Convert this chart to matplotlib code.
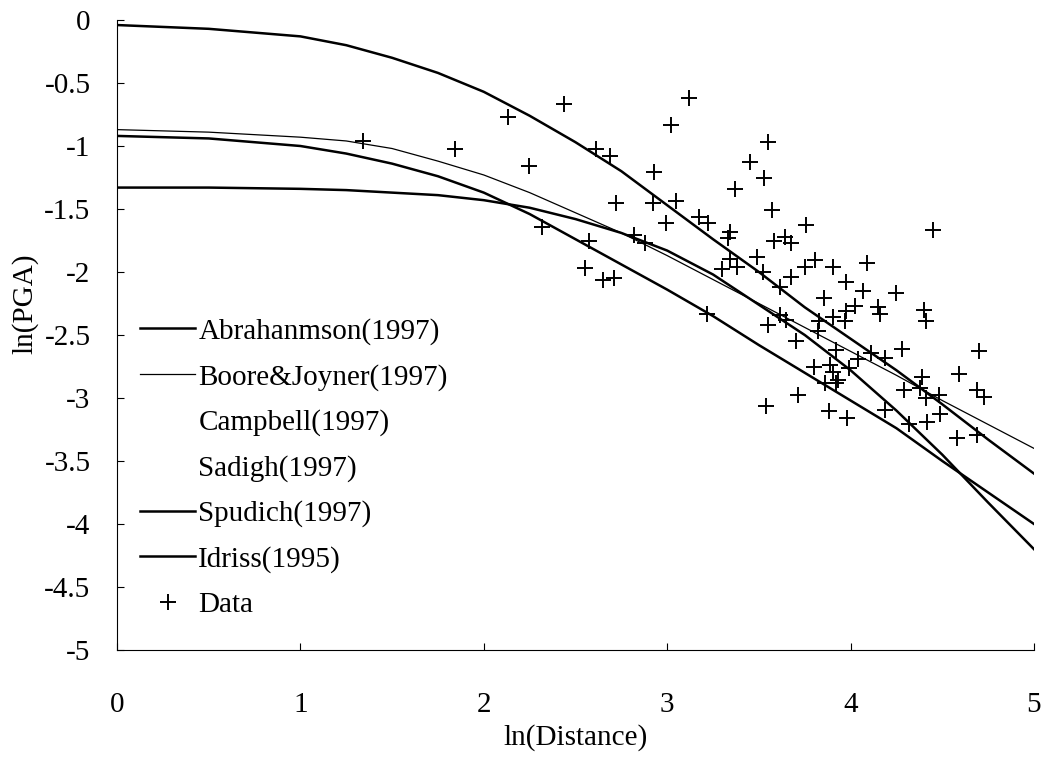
import matplotlib
matplotlib.use('Agg')
from matplotlib import pyplot as plt
from matplotlib.ticker import FuncFormatter


# model curves
dist = [0, 0.5, 1, 1.25, 1.5, 1.75, 2, 2.25, 2.5, 2.75, 3, 3.25, 3.5, 3.75, 4, 4.25, 4.5, 4.75, 5]
abrahamson = [-0.04, -0.07, -0.13, -0.2, -0.3, -0.42, -0.57, -0.76, -0.97, -1.2, -1.47, -1.74, -2.0, -2.28, -2.53, -2.78, -3.05, -3.33, -3.6]
boore = [-0.87, -0.89, -0.93, -0.96, -1.02, -1.12, -1.23, -1.37, -1.53, -1.69, -1.87, -2.06, -2.25, -2.44, -2.63, -2.82, -3.02, -3.21, -3.4]
spudich = [-0.92, -0.94, -1.0, -1.06, -1.14, -1.24, -1.37, -1.54, -1.74, -1.94, -2.14, -2.35, -2.58, -2.8, -3.02, -3.24, -3.5, -3.75, -4.0]
idriss = [-1.33, -1.33, -1.34, -1.35, -1.37, -1.39, -1.43, -1.49, -1.58, -1.69, -1.83, -2.02, -2.26, -2.5, -2.78, -3.1, -3.45, -3.83, -4.2]

# recorded data
data_x = [1.34, 1.845, 2.13, 2.44, 2.245, 2.61, 2.69, 2.72, 2.32, 2.575, 2.55, 2.65, 2.71, 2.82, 2.88,
          3.12, 3.02, 2.93, 2.92, 3.05, 2.995, 3.175, 3.22, 3.34, 3.33, 3.55, 3.45, 3.53, 3.37, 3.57,
          3.58, 3.30, 3.34, 3.38, 3.49, 3.52, 3.215, 3.55, 3.755, 3.64, 3.675, 3.675, 3.615, 3.75, 3.805,
          3.905, 3.975, 3.855, 3.615, 3.65, 3.70, 3.83, 3.905, 3.975, 3.80, 3.89, 3.905, 3.93, 3.99, 3.715,
          3.54, 3.88, 3.98, 4.45, 4.09, 4.07, 4.245, 4.025, 4.15, 4.16, 4.40, 4.41, 3.82, 4.28, 3.92,
          4.04, 4.11, 4.19, 4.70, 3.92, 3.86, 4.39, 4.59, 4.29, 4.38, 4.48, 4.69, 4.73, 4.41, 4.19,
          4.32, 4.415, 4.49, 4.58, 4.69, 3.97]
data_y = [-0.96, -1.02, -0.77, -0.67, -1.16, -1.02, -1.08, -1.45, -1.64, -1.75, -1.97, -2.06, -2.05, -1.71, -1.77,
          -0.62, -0.83, -1.21, -1.45, -1.44, -1.61, -1.56, -1.61, -1.68, -1.73, -0.97, -1.13, -1.25, -1.34, -1.51,
          -1.75, -1.98, -1.90, -1.96, -1.88, -2.0, -2.33, -2.42, -1.63, -1.72, -1.77, -2.04, -2.12, -1.96, -1.905,
          -1.96, -2.08, -2.21, -2.34, -2.38, -2.55, -2.39, -2.355, -2.31, -2.75, -2.74, -2.79, -2.86, -2.76, -2.98,
          -3.06, -3.10, -3.16, -1.67, -1.93, -2.15, -2.17, -2.27, -2.275, -2.33, -2.30, -2.39, -2.47, -2.61, -2.62,
          -2.69, -2.645, -2.685, -2.63, -2.88, -2.88, -2.83, -2.81, -2.94, -2.92, -2.98, -2.94, -2.99, -3.0, -3.095,
          -3.21, -3.19, -3.13, -3.32, -3.29, -2.39]

plt.rcParams['font.family'] = 'Liberation Serif'
plt.rcParams['axes.unicode_minus'] = False

fig = plt.figure(figsize=(10.45, 7.57), dpi=100)
ax = fig.add_axes([117/1045, 1 - 650/757, 917/1045, 630/757])

ax.plot(dist, abrahamson, color='black', lw=1.8, label='Abrahanmson(1997)')
ax.plot(dist, boore, color='black', lw=0.9, label='Boore&Joyner(1997)')
ax.plot([], [], lw=0, label='Campbell(1997)')
ax.plot([], [], lw=0, label='Sadigh(1997)')
ax.plot(dist, spudich, color='black', lw=1.8, label='Spudich(1997)')
ax.plot(dist, idriss, color='black', lw=1.8, label='Idriss(1995)')
ax.plot(data_x, data_y, ls='none', marker='+', ms=11, mew=1.4, color='black', label='Data')

ax.set_xlim(0, 5)
ax.set_ylim(-5, 0)
ax.set_xticks([0, 1, 2, 3, 4, 5])
ax.set_yticks([0, -0.5, -1, -1.5, -2, -2.5, -3, -3.5, -4, -4.5, -5])
ax.yaxis.set_major_formatter(FuncFormatter(lambda v, p: '%g' % v))
ax.tick_params(direction='in', length=5, width=0.8, labelsize=21)
ax.tick_params(axis='x', pad=30)
ax.tick_params(axis='y', pad=19)
for s in ['top', 'right']:
    ax.spines[s].set_visible(False)
for s in ['left', 'bottom']:
    ax.spines[s].set_linewidth(0.8)

ax.set_xlabel('ln(Distance)', fontsize=21)
ax.set_ylabel('ln(PGA)', fontsize=21)
ax.xaxis.set_label_coords(0.5, -0.118)
ax.yaxis.set_label_coords(-0.086, 0.55)

ax.legend(loc='upper left', bbox_to_anchor=(0.025, 0.527), frameon=False, fontsize=21,
          handlelength=1.9, handletextpad=0.1, labelspacing=0.64, borderpad=0, borderaxespad=0)

fig.savefig('out.png', dpi=100, facecolor='white')
